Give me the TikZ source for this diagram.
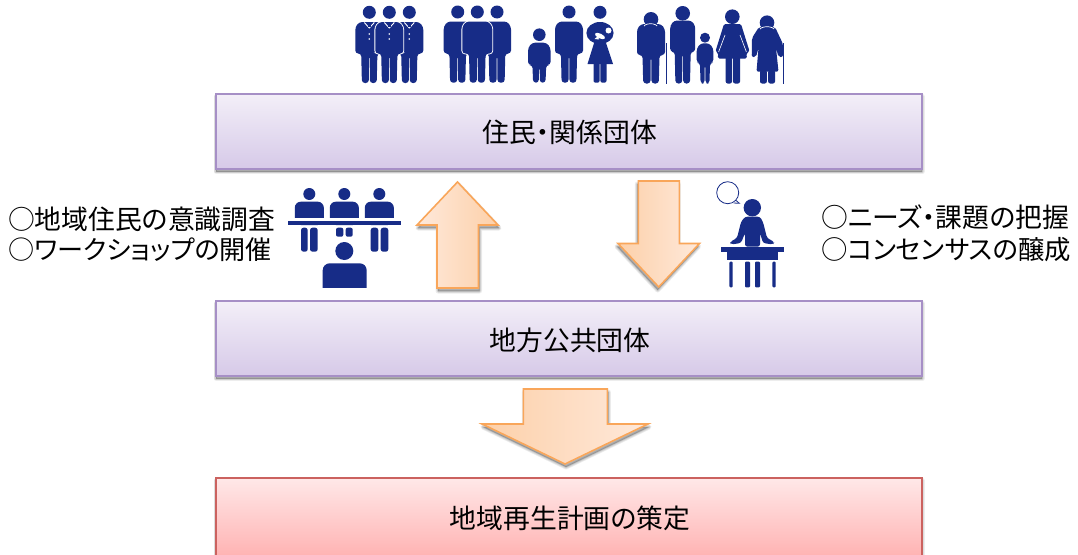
\documentclass[tikz,border=0pt]{standalone}
\usepackage{fontspec}
\setmainfont{Noto Sans CJK JP}[RawFeature=+palt]
\usetikzlibrary{shadings}
\definecolor{navy}{HTML}{172C87}
\definecolor{boxline}{HTML}{A68FC6}
\definecolor{boxtop}{HTML}{F3EFF8}
\definecolor{boxbot}{HTML}{D6C9E8}
\definecolor{redline}{HTML}{CB625F}
\definecolor{redtop}{HTML}{FFE8E8}
\definecolor{redbot}{HTML}{FFB3B3}
\definecolor{arline}{HTML}{F9A65A}
\definecolor{arlight}{HTML}{FEE9DB}
\definecolor{ardark}{HTML}{FDD0A9}
\tikzset{
  x=1pt,y=-1pt,
  label/.style={font=\fontsize{26.8}{29}\selectfont,text=black,inner sep=0pt},
  sidetext/.style={label,anchor=west},
  cut/.style={preaction={draw=white,line width=1.8pt}},
  icon/.style={fill=navy},
  block/.style={line width=1.6pt,line join=miter},
  thinline/.style={draw=navy,line width=1pt}
}
% soft shadow of a closed path, given as path text
\newcommand\softshadow[3]{%
  \begin{scope}[shift={(#1,#2)}]
  \fill[black,opacity=.22] #3;
  \foreach \w in {5,3.5,2,1}{\draw[black,opacity=.07,line width=\w pt,line join=round] #3;}
  \end{scope}}
% person: #1 options, #2 cx, #3 head y, #4 head r, #5 shoulder y, #6 half width, #7 arm end y, #8 half leg width, #9 foot y
\newcommand\folk[9][]{%
  \fill[icon] (#2,#3) circle ({#4 pt});
  \path[icon,rounded corners=3pt,#1] ({#2-#6+4},#5) -- ({#2+#6-4},#5) -- ({#2+#6},{#5+5}) -- ({#2+#6},#7) -- ({#2+#8+.7},#7) -- ({#2+#8},#9) -- ({#2+.5},#9) -- ({#2+.4},{#7+2}) -- ({#2-.4},{#7+2}) -- ({#2-.5},#9) -- ({#2-#8},#9) -- ({#2-#8-.7},#7) -- ({#2-#6},#7) -- ({#2-#6},{#5+5}) -- cycle;
}
\newcommand\suit[1]{%
  \folk[cut]{#1}{12.3}{6.5}{22}{14}{53.5}{7.4}{83}
  \draw[white,line width=.9pt] ({#1-5},22.5) -- (#1,28) -- ({#1+5},22.5);
  \fill[navy] ({#1-1.4},21.5) rectangle ({#1+1.4},26.5);
  \fill[white] (#1,34) circle (.9pt) (#1,39) circle (.9pt);
}
\begin{document}
\begin{tikzpicture}
\useasboundingbox (0,0) rectangle (1078,554);
\fill[white] (0,0) rectangle (1078,554);

% ---- boxes
\softshadow{0}{2.5}{(216,94) rectangle (922,169)}
\softshadow{0}{2.5}{(216,301) rectangle (922,376)}
\softshadow{0}{2.5}{(216,478) rectangle (922,556)}
\node[draw=boxline,line width=1.6pt,top color=boxtop,bottom color=boxbot,minimum width=706pt,minimum height=75pt,inner sep=0pt,anchor=north west,outer sep=0pt] (residents) at (216,94) {};
\node[draw=boxline,line width=1.6pt,top color=boxtop,bottom color=boxbot,minimum width=706pt,minimum height=75pt,inner sep=0pt,anchor=north west,outer sep=0pt] (government) at (216,301) {};
\node[draw=redline,line width=1.6pt,top color=redtop,bottom color=redbot,minimum width=706pt,minimum height=78pt,inner sep=0pt,anchor=north west,outer sep=0pt] (plan) at (216,478) {};
\node[label] (t1) at (570,132) {住民・関係団体};
\node[label] (t2) at (570,340) {地方公共団体};
\node[label] (t3) at (570,518) {地域再生計画の策定};

% ---- block arrows
\softshadow{1}{3}{(457.5,182) -- (498,225) -- (478.5,225) -- (478.5,288) -- (437,288) -- (437,225) -- (417,225) -- cycle}
\shade[left color=arlight,right color=ardark,draw=arline,block] (457.5,182) -- (498,225) -- (478.5,225) -- (478.5,288) -- (437,288) -- (437,225) -- (417,225) -- cycle;
\softshadow{-1}{3}{(638.3,181) -- (679.3,181) -- (679.3,243.5) -- (699.5,243.5) -- (658.7,287) -- (618,243.5) -- (638.3,243.5) -- cycle}
\shade[left color=ardark,right color=arlight,draw=arline,block] (638.3,181) -- (679.3,181) -- (679.3,243.5) -- (699.5,243.5) -- (658.7,287) -- (618,243.5) -- (638.3,243.5) -- cycle;
\softshadow{1}{3}{(523.3,389) -- (607.3,389) -- (607.3,424) -- (648,424) -- (565,464) -- (482,424) -- (523.3,424) -- cycle}
\shade[left color=ardark,right color=arlight,draw=arline,block] (523.3,389) -- (607.3,389) -- (607.3,424) -- (648,424) -- (565,464) -- (482,424) -- (523.3,424) -- cycle;

% ---- side texts
\node[sidetext] (l1) at (8,219) {○地域住民の意識調査};
\node[sidetext,font=\fontsize{26.1}{29}\selectfont] (l2) at (8,250) {○ワークショップの開催};
\node[sidetext] (r1) at (821,217) {○ニーズ・課題の把握};
\node[sidetext,font=\fontsize{26.4}{29}\selectfont] (r2) at (821,250) {○コンセンサスの醸成};

% ---- suits
\suit{369.3}
\suit{409.3}
\suit{389.3}

% ---- group of three
\folk{457.7}{12}{6.5}{21.5}{14}{53.5}{7.6}{82.7}
\folk{497}{12}{6.5}{21.5}{14}{53.5}{7.6}{82.7}
\folk[cut]{477.3}{12}{6.5}{21.5}{15}{53.5}{7.6}{82.7}

% ---- child, father, mother
\folk{539.3}{34.7}{6.3}{42.7}{11.2}{65}{6.2}{82.7}
\folk{569}{12}{6.5}{21.5}{14}{53.5}{7.4}{82.7}
\fill[icon] (600,12.3) circle (6.5pt);
\fill[icon] (600,33) ellipse (13.6pt and 11pt);
\fill[icon] (595,40) -- (605,40) -- (613,64) -- (587.5,64) -- cycle;
\fill[icon,rounded corners=2pt] (593.5,62) rectangle (599.6,82.7);
\fill[icon,rounded corners=2pt] (600.4,62) rectangle (606.5,82.7);
\fill[white] (608.5,30.5) circle (3pt);
\fill[white,rotate around={-25:(600,36)}] (600,36) ellipse (5.5pt and 2.4pt);
\fill[white] (594.5,39) -- (598,36) -- (599,39.5) -- cycle;

% ---- elder man
\folk{651}{19.3}{7.3}{24}{14}{55}{7.8}{83.5}
\draw[white,line width=.7pt] (644,26) arc[start angle=200,end angle=340,x radius=7,y radius=3.5];
\draw[thinline] (666,43) -- (666,83.7);
% ---- man, child
\folk{682.7}{13.3}{7.3}{20.5}{12.5}{51.7}{7.3}{83.5}
\folk{705}{37.7}{5}{43.3}{8.3}{62.7}{4.4}{83.5}
% ---- woman
\fill[icon] (732.3,16.7) circle (7.3pt);
\fill[icon,rounded corners=1.5pt] (724,24) -- (741,24) -- (749.6,51.5) -- (746.5,53) -- (746.9,58.5) -- (717.8,58.5) -- (718.2,53) -- (715.4,51.5) -- cycle;
\draw[white,line width=.6pt] (725,35) -- (718.6,52) (740,35) -- (746.4,52);
\fill[icon,rounded corners=2pt] (725.7,56) rectangle (732,83.5);
\fill[icon,rounded corners=2pt] (733,56) rectangle (740,83.5);
% ---- old woman
\fill[icon] (767,22.7) circle (7.3pt);
\fill[icon,rounded corners=2pt] (759,27) -- (775,27) -- (783,44) -- (783,57) -- (778.5,57) -- (776,48) -- (778.5,71.7) -- (756.5,71.7) -- (758.5,48) -- (756,57) -- (751.7,57) -- (752,38) -- cycle;
\draw[white,line width=.7pt] (760,29) arc[start angle=200,end angle=340,x radius=7.5,y radius=3.5];
\fill[icon,rounded corners=2pt] (760,70) rectangle (766.8,83.5);
\fill[icon,rounded corners=2pt] (768.2,70) rectangle (775,83.5);
\draw[thinline] (783,43) -- (783,83.7);

% ---- meeting icon
\foreach \c in {309.3,344.3,379.3}{
  \fill[icon] (\c,194) circle (6pt);
  \fill[icon,rounded corners=6pt] ({\c-14.5},225) -- ({\c-14.5},201.7) -- ({\c+14.5},201.7) -- ({\c+14.5},225) -- cycle;
}
\fill[white] (288,218.3) rectangle (400.7,220.7);
\fill[icon] (288,220.7) rectangle (400.7,225);
\foreach \a/\b in {301/307.7,310/317.7,370.7/378.3,380.7/388.3}{
  \fill[icon,rounded corners=2.5pt] (\a,227.7) rectangle (\b,251.7);
}
\foreach \a/\b in {336/343.3,345.7/352.7}{
  \fill[icon,rounded corners=2pt] (\a,227.7) rectangle (\b,236.7);
}
\fill[icon] (344.3,251) circle (9pt);
\fill[icon,rounded corners=7pt] (322.7,295) -- (322.7,263.3) -- (366.7,263.3) -- (366.7,295) -- cycle;
\fill[white] (320,287.7) rectangle (369,297);

% ---- teacher icon
\draw[thinline,line width=.8pt] (727.7,192.7) circle (11pt);
\draw[thinline,line width=.8pt] (735.8,200.2) -- (739.3,203.3) -- (733.6,203);
\fill[icon] (752.3,207.7) circle (8.7pt);
\fill[icon,rounded corners=2.5pt] (745,216.7) -- (760,216.7) -- (763,222) -- (767,238) -- (774.5,242) -- (773,244.5) -- (763,243) -- (760,233) -- (760,246.7) -- (745,246.7) -- (745,233) -- (741,243) -- (731,244.5) -- (730,242) -- (737,238) -- (741,222) -- cycle;
\fill[icon] (720.7,247.3) rectangle (784,252.3);
\fill[icon] (726.7,252.3) rectangle (778.3,260);
\foreach \a/\b in {729.3/732.7,745/750,755/760,772.3/775.7}{
  \fill[icon,rounded corners=1pt] (\a,261.7) rectangle (\b,287.3);
}
\end{tikzpicture}
\end{document}
